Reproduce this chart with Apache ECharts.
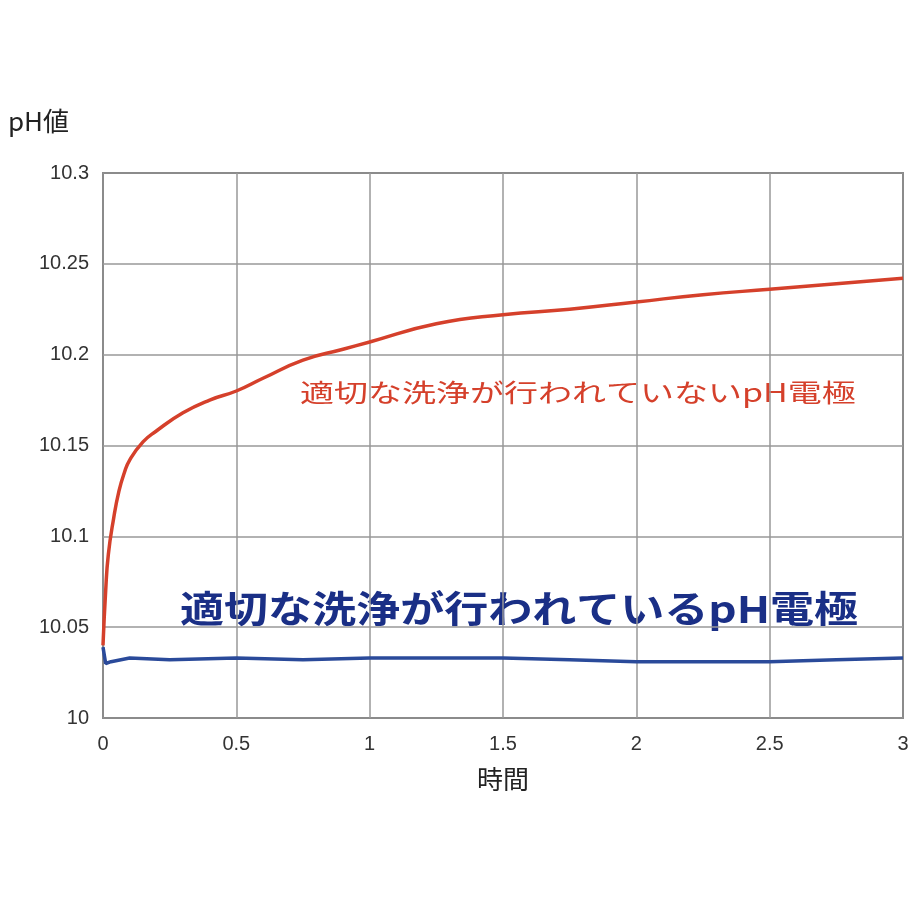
<!DOCTYPE html>
<html>
<head>
<meta charset="utf-8">
<script src="https://cdn.jsdelivr.net/npm/echarts@6/dist/echarts.min.js"></script>
<style>html,body{margin:0;background:#fff}#chart{width:920px;height:920px}</style>
</head>
<body>
<div id="chart"></div>
<script>
// 時間
var dirtyTime = [0, 0.01, 0.02, 0.04, 0.06, 0.08, 0.1, 0.15, 0.2, 0.3, 0.4, 0.5, 0.6, 0.75, 0.9, 1.0, 1.25, 1.5, 1.75, 2.0, 2.25, 2.5, 2.75, 3.0];
// 適切な洗浄が行われていないpH電極
var dirtyPH = [10.04, 10.07, 10.09, 10.11, 10.125, 10.135, 10.142, 10.152, 10.158, 10.168, 10.175, 10.18, 10.187, 10.197, 10.203, 10.207, 10.217, 10.222, 10.225, 10.229, 10.233, 10.236, 10.239, 10.242];
// 適切な洗浄が行われているpH電極
var cleanTime = [0, 0.01, 0.03, 0.1, 0.25, 0.5, 0.75, 1.0, 1.25, 1.5, 1.75, 2.0, 2.25, 2.5, 2.75, 3.0];
var cleanPH = [10.039, 10.03, 10.031, 10.033, 10.032, 10.033, 10.032, 10.033, 10.033, 10.033, 10.032, 10.031, 10.031, 10.031, 10.032, 10.033];

function pairs(xs, ys) {
	return xs.map(function(x, i) { return [x, ys[i]]; });
}

var chart = echarts.init(document.getElementById('chart'));
chart.setOption({
	animation: false,
	textStyle: { fontFamily: 'Liberation Sans, Noto Sans CJK JP' },
	grid: { left: 103, right: 17, top: 173, bottom: 202, show: true, borderColor: '#333', borderWidth: 1.5 },
	xAxis: {
		type: 'value', min: 0, max: 3, interval: 0.5,
		name: '時間', nameLocation: 'middle', nameGap: 48,
		nameTextStyle: { fontSize: 26, color: '#222', fontFamily: 'Noto Sans CJK JP' },
		axisLine: { show: false }, axisTick: { show: false },
		axisLabel: { fontSize: 20, color: '#333', margin: 16 },
		splitLine: { lineStyle: { color: '#999', width: 1.5 } }
	},
	yAxis: {
		type: 'value', min: 10, max: 10.3, interval: 0.05,
		axisLine: { show: false }, axisTick: { show: false },
		axisLabel: { fontSize: 20, color: '#333', margin: 14, formatter: function(v) { return +v.toFixed(2) + ''; } },
		splitLine: { lineStyle: { color: '#999', width: 1.5 } }
	},
	graphic: [
		{ type: 'text', left: 8, top: 108, style: { text: 'pH値', fontSize: 26, fill: '#222', fontFamily: 'Noto Sans CJK JP' } },
		{ type: 'text', x: 300, y: 380, scaleX: 1.36, style: { text: '適切な洗浄が行われていないpH電極', fontSize: 25, fill: '#d5402b', fontFamily: 'Noto Sans CJK JP' } },
		{ type: 'text', x: 180, y: 590, scaleX: 1.19, style: { text: '適切な洗浄が行われているpH電極', fontSize: 37, fontWeight: 'bold', fill: '#1a2f86', fontFamily: 'Noto Sans CJK JP' } }
	],
	series: [
		{ type: 'line', data: pairs(dirtyTime, dirtyPH), smooth: true, showSymbol: false, lineStyle: { color: '#d5402b', width: 3.5 } },
		{ type: 'line', data: pairs(cleanTime, cleanPH), showSymbol: false, lineStyle: { color: '#2a4a9a', width: 3.5 } }
	]
});
</script>
</body>
</html>
